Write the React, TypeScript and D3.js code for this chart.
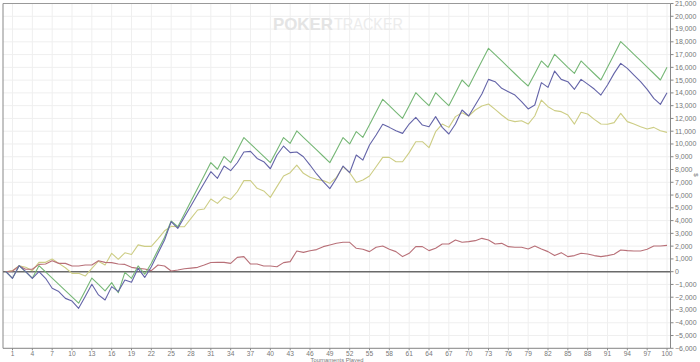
import React from 'react';
import * as d3 from 'd3';

// cumulative results per tournament, index 0 = start
const greenSeries = [0, -520, 470, -20, -510, 470, -20, -510, -1000, -1490, -1980, -2470, -1500, -500, -1000, -1500, -860, -1650, -50, -520, 450, -200, 660, 1700, 2690, 3970, 3520, 4520, 5530, 6530, 7540, 8540, 8020, 9010, 8540, 9500, 10500, 10010, 9520, 9030, 8540, 9500, 10500, 10050, 11020, 10520, 10030, 9530, 9040, 8540, 9500, 10500, 10000, 10970, 10520, 11500, 12500, 13500, 13000, 12500, 12010, 13000, 14020, 13500, 13000, 14020, 13500, 13000, 14000, 15010, 14490, 15500, 16500, 17490, 17000, 16500, 16000, 15500, 15000, 14540, 15500, 16500, 16000, 17020, 16500, 16000, 15530, 16500, 16000, 15500, 15010, 16000, 17000, 18020, 17520, 17020, 16520, 16020, 15520, 15010, 16000];
const blueSeries = [0, -520, 470, 0, -520, 0, -520, -1300, -1560, -2090, -2300, -2870, -1950, -990, -1820, -2220, -1170, -1560, -650, -830, 260, -450, 390, 1440, 2480, 3920, 3390, 4280, 5170, 6060, 6950, 7830, 7310, 8270, 7910, 8530, 9370, 9420, 8870, 8610, 8060, 9140, 9840, 9320, 9370, 9000, 8350, 7650, 7050, 6500, 7310, 8270, 7750, 9140, 8740, 9920, 10700, 11540, 11300, 11040, 10830, 11560, 12080, 11480, 11350, 12140, 11300, 10780, 11560, 12660, 12190, 13050, 13910, 15060, 14880, 14360, 14090, 13830, 13310, 12740, 13050, 14800, 14430, 15710, 15060, 14880, 14280, 15060, 14690, 14300, 13830, 14620, 15530, 16310, 15920, 15400, 14880, 14280, 13570, 13100, 14010];
const yellowSeries = [0, 80, 470, 340, 80, 730, 730, 990, 650, 310, -130, -130, -340, 260, 820, 520, 1440, 970, 1480, 1340, 2100, 1980, 1980, 2570, 3200, 3550, 3520, 3520, 4180, 4830, 4910, 5690, 5350, 5870, 5660, 6260, 7130, 7130, 6530, 6320, 5820, 6660, 7490, 7750, 8350, 7700, 7390, 7230, 7130, 6920, 7390, 8220, 7750, 6990, 7180, 7490, 8220, 8950, 8950, 8610, 8610, 9320, 10180, 10180, 9710, 10960, 11560, 11300, 12140, 12450, 12190, 12660, 12970, 13130, 12710, 12270, 11880, 11750, 11820, 11560, 12190, 13440, 12920, 12610, 12530, 12270, 11560, 12480, 12350, 11930, 11560, 11540, 11670, 12400, 11750, 11560, 11350, 11170, 11300, 11040, 10910];
const redSeries = [0, 50, 440, 190, 190, 570, 600, 860, 650, 650, 440, 440, 520, 520, 860, 730, 710, 600, 570, 340, 260, 210, 80, 520, 440, 50, 130, 230, 280, 340, 520, 720, 730, 730, 650, 1120, 1180, 600, 600, 440, 450, 390, 710, 790, 1620, 1510, 1640, 1730, 1960, 2090, 2220, 2300, 2300, 1830, 1750, 1570, 1910, 2010, 1750, 1570, 1180, 1440, 1960, 1960, 1650, 1830, 2170, 2170, 2480, 2300, 2350, 2430, 2610, 2480, 2170, 2220, 1960, 1910, 1910, 1780, 2010, 1780, 1570, 1260, 1490, 1180, 1260, 1440, 1380, 1260, 1180, 1260, 1360, 1700, 1650, 1620, 1620, 1750, 2010, 2010, 2060];

const xTicks = d3.range(1, 101, 3);
const yTicks = d3.range(-6000, 21001, 1000);

const W = 700;
const H = 362;
const plot = { left: 3, right: 670.5, top: 3.5, bottom: 348.3 };
const font = 'Liberation Sans, Arial, sans-serif';

export default function App() {
  const x = d3.scaleLinear().domain([0, 100]).range([5.9, 667]);
  const y = d3.scaleLinear().domain([-6000, 21000]).range([plot.bottom, plot.top]);
  const fmt = d3.format(',');

  const line = d3
    .line<number>()
    .x((_, i) => x(i))
    .y((d) => y(d));

  const series = [
    { values: yellowSeries, color: '#cdcd85' },
    { values: redSeries, color: '#b87078' },
    { values: greenSeries, color: '#76b776' },
    { values: blueSeries, color: '#6464a8' },
  ];

  return (
    <svg
      width={W}
      height={H}
      style={{ position: 'absolute', left: 0, top: 0, background: '#fff' }}
    >
      {/* grid */}
      {yTicks.map((t) => (
        <line key={'gy' + t} x1={plot.left} x2={plot.right} y1={y(t)} y2={y(t)} stroke="#efefef" strokeWidth={1} />
      ))}
      {xTicks.map((t) => (
        <line key={'gx' + t} x1={x(t)} x2={x(t)} y1={plot.top} y2={plot.bottom} stroke="#efefef" strokeWidth={1} />
      ))}

      {/* watermark */}
      <text x={273} y={30} fontFamily={font} fontSize={17} fill="#e4e4e4">
        <tspan fontWeight="bold" textLength={60} lengthAdjust="spacingAndGlyphs">POKER</tspan>
        <tspan x={334} textLength={69} lengthAdjust="spacingAndGlyphs" fill="#ececec">TRACKER</tspan>
      </text>

      {/* frame */}
      <line x1={plot.left} x2={plot.right} y1={plot.top} y2={plot.top} stroke="#999" strokeWidth={1} />
      <line x1={plot.left} x2={plot.left} y1={plot.top} y2={plot.bottom} stroke="#888" strokeWidth={1} />
      <line x1={plot.left} x2={plot.right} y1={plot.bottom} y2={plot.bottom} stroke="#888" strokeWidth={1} />
      <line x1={plot.right} x2={plot.right} y1={plot.top} y2={plot.bottom} stroke="#888" strokeWidth={1} />

      {/* zero line */}
      <line x1={plot.left} x2={plot.right} y1={y(0)} y2={y(0)} stroke="#6a6a6a" strokeWidth={1.5} />

      {series.map((s, k) => (
        <path key={k} d={line(s.values) || ''} fill="none" stroke={s.color} strokeWidth={1.1} strokeLinejoin="round" />
      ))}

      {/* right axis */}
      {yTicks.map((t) => (
        <g key={'ty' + t} transform={`translate(${plot.right},${y(t)})`}>
          <line x1={0} x2={3} stroke="#888" />
          <text x={4.5} dy="0.35em" fontFamily={font} fontSize={7} fill="#777">
            {fmt(t)}
          </text>
        </g>
      ))}
      <text
        transform={`translate(694,175) rotate(90)`}
        textAnchor="middle"
        fontFamily={font}
        fontSize={6}
        fill="#777"
      >
        $
      </text>

      {/* bottom axis */}
      {xTicks.map((t) => (
        <g key={'tx' + t} transform={`translate(${x(t)},${plot.bottom})`}>
          <line y1={0} y2={2} stroke="#888" />
          <text y={7.4} textAnchor="middle" fontFamily={font} fontSize={6.6} fill="#777">
            {t}
          </text>
        </g>
      ))}
      <text x={337} y={361.6} textAnchor="middle" fontFamily={font} fontSize={5.8} fill="#777">
        Tournaments Played
      </text>
    </svg>
  );
}
